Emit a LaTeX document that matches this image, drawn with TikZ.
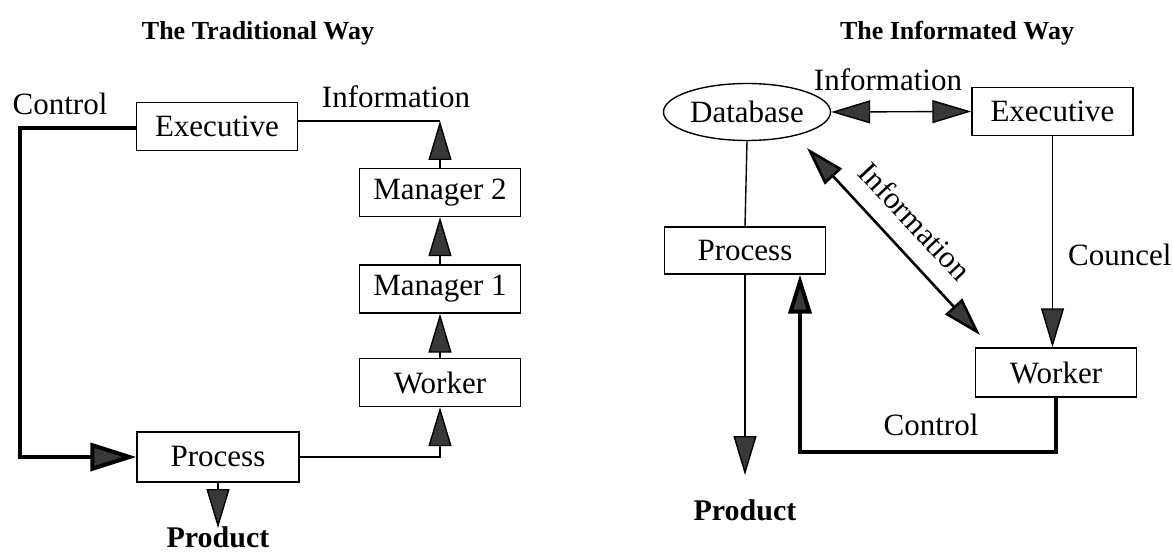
\documentclass[tikz,border=0pt]{standalone}
\usepackage{fontspec}
\setmainfont{Liberation Serif}
\usetikzlibrary{arrows.meta,shapes.geometric}
\begin{document}
\begin{tikzpicture}[x=1pt,y=-1pt,
  every node/.style={font=\fontsize{31}{36}\selectfont},
  box/.style={draw,line width=1.4pt,minimum width=161pt,minimum height=48pt,inner sep=0pt},
  lbl/.style={inner sep=0pt},
  ttl/.style={inner sep=0pt,font=\fontsize{26}{30}\selectfont\bfseries},
  prod/.style={inner sep=0pt,font=\fontsize{30}{34}\selectfont\bfseries},
  thin/.style={line width=1.4pt},
  thickc/.style={line width=4pt},
  diag/.style={line width=2.6pt},
  tip/.style={-{Triangle[length=39pt,width=23pt,fill=black!78]}},
  bigtip/.style={-{Triangle[length=46pt,width=28pt,fill=black!78]}},
  dtip/.style={{Triangle[length=39pt,width=23pt,fill=black!78]}-{Triangle[length=39pt,width=23pt,fill=black!78]}}
]
\useasboundingbox (0,0) rectangle (1173,556);

% ---------- Left: The Traditional Way ----------
\node[ttl] (t1) at (258,33) {The Traditional Way};
\node[box] (exec1) at (217,126.5) {Executive};
\node[box] (mgr2) at (440,192.5) {Manager 2};
\node[box] (mgr1) at (440,289) {Manager 1};
\node[box] (wk1) at (440,382.5) {Worker};
\node[box,minimum width=162pt,minimum height=50pt] (proc1) at (218,457) {Process};
\node[lbl] (ctl1) at (60,104) {Control};
\node[lbl] (inf1) at (396,97) {Information};
\node[prod] (prod1) at (218,537) {Product};
\coordinate (c1a) at (20,128);
\coordinate (c1b) at (20,457);
\coordinate (i1) at (440,121);
\coordinate (p1end) at (218,528);

\draw[thickc,bigtip] (exec1.west |- c1a) -- (c1a) -- (c1b) -- (proc1.west);
\draw[thin] (exec1.east |- i1) -- (i1);
\draw[thin,tip] (mgr2.north) -- (i1);
\draw[thin,tip] (mgr1.north) -- (mgr2.south);
\draw[thin,tip] (wk1.north) -- (mgr1.south);
\draw[thin,tip] (proc1.east) -| (wk1.south);
\draw[thin,tip] (proc1.south) -- (p1end);

% ---------- Right: The Informated Way ----------
\node[ttl] (t2) at (957,33) {The Informated Way};
\node[draw,line width=1.4pt,ellipse,minimum width=167pt,minimum height=57pt,inner sep=0pt] (db) at (747,112) {Database};
\node[box] (exec2) at (1052.5,111.5) {Executive};
\node[box,minimum height=47pt] (proc2) at (745,250.5) {Process};
\node[box,minimum height=49pt] (wk2) at (1056,372.5) {Worker};
\node[lbl] (inf2) at (888,80) {Information};
\node[lbl,anchor=west] (cou) at (1068,255) {Councel};
\node[lbl] (ctl2) at (931,425) {Control};
\node[prod] (prod2) at (745,510) {Product};
\node[lbl,rotate=-47] (inf3) at (915,221) {Information};
\coordinate (p2end) at (745,475);
\coordinate (dg1) at (807,148);
\coordinate (dg2) at (980,335);
\coordinate (c2) at (800,452);

\draw[thin,dtip] (db.east) -- (exec2.west);
\draw[thin] (db.south) -- (proc2.north);
\draw[thin,tip] (proc2.south) -- (p2end);
\draw[thin,tip] (exec2.south) -- (exec2.south |- wk2.north);
\draw[diag,dtip] (dg1) -- (dg2);
\draw[thickc,tip] (wk2.south) |- (c2) -- (c2 |- proc2.south);
\end{tikzpicture}
\end{document}
